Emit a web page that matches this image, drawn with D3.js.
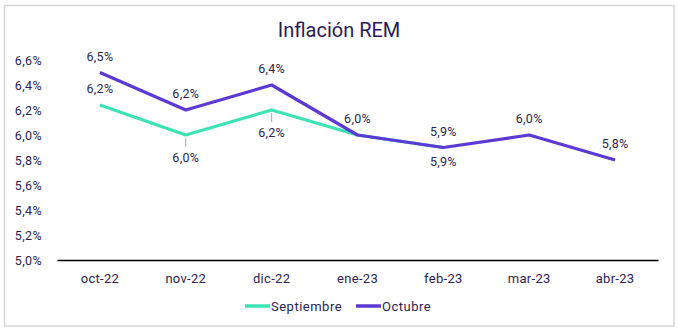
<!DOCTYPE html>
<html><head><meta charset="utf-8">
<script src="https://cdn.jsdelivr.net/npm/d3@7"></script>
<style>body{margin:0;background:#fff}svg{display:block}text{font-family:Roboto,"Noto Sans",sans-serif}</style>
</head><body>
<svg id="c" width="678" height="332"></svg>
<script>
const categories = ["oct-22","nov-22","dic-22","ene-23","feb-23","mar-23","abr-23"];
const septiembre = [6.24, 6.0, 6.2, 6.0, 5.9];
const octubre = [6.5, 6.2, 6.4, 6.0, 5.9, 6.0, 5.8];
const yTicks = [5.0,5.2,5.4,5.6,5.8,6.0,6.2,6.4,6.6];
// label placement: 1 above, -1 below (with leader), -2 below (no leader), 0 none
const septLabelPos = [1, -1, -1, 0, -2];
const octLabelPos = [1, 1, 1, 1, 1, 1, 1];
const seriesNames = ["Septiembre","Octubre"];
const colors = ["#3de3b3","#5a3ad3"];
const textColor = "#2b2452";

const svg = d3.select("#c");
svg.append("rect").attr("x",4.5).attr("y",5.5).attr("width",669.5).attr("height",320.5)
  .attr("fill","#fff").attr("stroke","#d6d6d6").attr("stroke-width",1.5);

const x = d3.scaleBand().domain(categories).range([57,658]);
const y = d3.scaleLinear().domain([5.0,6.6]).range([260,60]);
const fmt = v => d3.format(".1f")(v).replace(".",",") + "%";

svg.append("text").attr("x",339).attr("y",37).attr("text-anchor","middle")
  .attr("font-size",20).attr("fill","#2a1a5a").text("Inflación REM");

const yAxis = svg.append("g").attr("transform","translate(57,0)")
  .call(d3.axisLeft(y).tickValues(yTicks).tickFormat(fmt).tickSize(0).tickPadding(15));
yAxis.select(".domain").remove();
yAxis.selectAll("text").attr("font-size",12.5).attr("letter-spacing",0.4).attr("fill",textColor).attr("font-family","Roboto");

const xAxis = svg.append("g").attr("transform","translate(0,260)")
  .call(d3.axisBottom(x).tickSize(0).tickPadding(14));
xAxis.select(".domain").attr("stroke","#000").attr("stroke-width",1.3);
xAxis.selectAll("text").attr("font-size",13).attr("letter-spacing",0.3).attr("fill",textColor).attr("font-family","Roboto");

const cx = i => x(categories[i]) + x.bandwidth()/2;
const line = d3.line().x((d,i)=>cx(i)).y(d=>y(d));

function drawLabels(data, pos) {
  data.forEach((v,i)=>{
    const p = pos[i];
    if (!p) return;
    const px = cx(i), py = y(v);
    const t = svg.append("text").attr("x",px).attr("text-anchor","middle")
        .attr("font-size",12.5).attr("letter-spacing",0.3).attr("fill",textColor).text(fmt(v));
    if (p === 1) {
      t.attr("y",py-12);
    } else if (p === -1) {
      svg.append("line").attr("x1",px).attr("x2",px).attr("y1",py+3).attr("y2",py+12)
        .attr("stroke","#aaa").attr("stroke-width",1);
      t.attr("y",py+27);
    } else if (p === -2) {
      t.attr("y",py+18);
    }
  });
}

svg.append("path").datum(septiembre).attr("d",line).attr("fill","none")
  .attr("stroke",colors[0]).attr("stroke-width",3.2).attr("stroke-linejoin","round");
svg.append("path").datum(octubre).attr("d",line).attr("fill","none")
  .attr("stroke",colors[1]).attr("stroke-width",3.2).attr("stroke-linejoin","round");

drawLabels(septiembre, septLabelPos);
drawLabels(octubre, octLabelPos);

// legend
const legend = svg.append("g");
const legItems = [{name:seriesNames[0],c:colors[0],x:245},{name:seriesNames[1],c:colors[1],x:356}];
legItems.forEach(d=>{
  legend.append("line").attr("x1",d.x).attr("x2",d.x+25).attr("y1",306).attr("y2",306)
    .attr("stroke",d.c).attr("stroke-width",3.5);
  legend.append("text").attr("x",d.x+26).attr("y",310.5).attr("font-size",13).attr("letter-spacing",0.5)
    .attr("fill",textColor).text(d.name);
});
</script>
</body></html>
